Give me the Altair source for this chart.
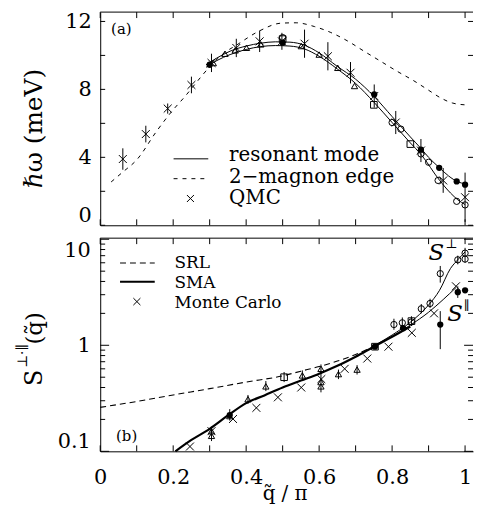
import altair as alt
import pandas as pd

FONT = "DejaVu Serif"
W = 376
H = 215

# ---------------- panel (a) data ----------------
edge_q = [0.03, 0.06, 0.10, 0.155, 0.196, 0.233, 0.269, 0.305, 0.34, 0.373, 0.437, 0.496,
          0.537, 0.587, 0.632, 0.678, 0.723, 0.769, 0.815, 0.86, 0.90, 0.933, 0.965, 1.0]
edge_E = [2.55, 3.1, 3.85, 5.55, 6.7, 7.6, 8.55, 9.45, 10.15, 10.6, 11.45, 11.9,
          11.92, 11.7, 11.35, 10.85, 10.25, 9.65, 9.05, 8.5, 7.95, 7.5, 7.2, 7.09]

res_up_q = [0.29, 0.32, 0.356, 0.40, 0.44, 0.48, 0.52, 0.56, 0.60, 0.65, 0.70, 0.75,
            0.80, 0.85, 0.88, 0.90, 0.93, 0.955, 0.98, 1.0]
res_up_E = [9.45, 9.85, 10.25, 10.55, 10.72, 10.8, 10.78, 10.6, 10.15, 9.35, 8.6, 7.6,
            6.4, 5.2, 4.5, 4.0, 3.38, 2.9, 2.56, 2.44]
res_lo_q = [0.29, 0.32, 0.356, 0.40, 0.44, 0.48, 0.52, 0.56, 0.60, 0.65, 0.70, 0.75,
            0.80, 0.85, 0.88, 0.93, 0.96, 0.98, 1.0]
res_lo_E = [9.3, 9.7, 10.05, 10.35, 10.52, 10.58, 10.55, 10.38, 9.95, 9.2, 8.35, 7.25,
            6.05, 4.85, 4.15, 2.65, 1.9, 1.5, 1.22]

qmc_q = [0.062, 0.125, 0.185, 0.25, 0.305, 0.373, 0.437, 0.498, 0.56, 0.624, 0.686, 0.751,
         0.81, 0.879, 0.94, 1.0]
qmc_E = [3.9, 5.37, 6.87, 8.26, 9.56, 10.44, 10.83, 10.83, 10.69, 9.95, 8.98, 7.61,
         6.05, 4.40, 2.64, 1.65]
qmc_err = [0.63, 0.49, 0.3, 0.49, 0.54, 0.54, 0.63, 0.5, 0.83, 0.83, 0.63, 0.68,
           0.68, 0.68, 0.73, 1.45]

a_tri_q = [0.31, 0.342, 0.37, 0.401, 0.44, 0.551, 0.60, 0.651, 0.697]
a_tri_E = [9.55, 10.1, 10.3, 10.45, 10.65, 10.55, 10.05, 9.27, 8.2]
a_sq_q = [0.5, 0.75, 0.85]
a_sq_E = [10.96, 7.09, 4.78]
a_oc_q = [0.5, 0.80, 0.824, 0.879, 0.90, 0.926, 0.977, 1.0]
a_oc_E = [11.05, 6.05, 5.66, 4.2, 3.71, 2.64, 1.41, 1.2]
a_fc_q = [0.3, 0.5, 0.751, 0.879, 0.929, 0.977, 1.0]
a_fc_E = [9.45, 10.75, 7.7, 4.45, 3.38, 2.58, 2.39]

# ---------------- panel (b) data ----------------
srl_q = [0.0, 0.1, 0.2, 0.3, 0.4, 0.5, 0.55, 0.6, 0.65, 0.7, 0.75, 0.79]
srl_S = [0.26, 0.295, 0.34, 0.39, 0.45, 0.515, 0.57, 0.63, 0.71, 0.82, 0.98, 1.17]
sma_q = [0.206, 0.25, 0.3, 0.35, 0.4, 0.45, 0.5, 0.55, 0.6, 0.65, 0.7, 0.75, 0.8, 0.85]
sma_S = [0.1, 0.128, 0.163, 0.218, 0.285, 0.337, 0.40, 0.465, 0.54, 0.64, 0.78, 0.97, 1.2, 1.5]
sperp_q = [0.75, 0.8, 0.85, 0.9, 0.93, 0.96, 0.98, 1.0]
sperp_S = [0.99, 1.25, 1.65, 2.4, 3.3, 5.3, 6.4, 7.6]
spar_q = [0.75, 0.8, 0.85, 0.9, 0.94, 0.975]
spar_S = [0.99, 1.22, 1.55, 2.05, 2.7, 3.5]

mc_q = [0.246, 0.305, 0.364, 0.428, 0.487, 0.551, 0.606, 0.67, 0.732, 0.79, 0.854, 0.915, 0.975, 1.034]
mc_S = [0.111, 0.155, 0.202, 0.257, 0.323, 0.40, 0.48, 0.60, 0.75, 0.97, 1.31, 2.0, 3.6, 3.6]

b_tri_q = [0.305, 0.305, 0.355, 0.405, 0.454, 0.554, 0.605, 0.605, 0.605, 0.653, 0.704]
b_tri_S = [0.155, 0.14, 0.215, 0.31, 0.41, 0.52, 0.60, 0.45, 0.41, 0.535, 0.59]
b_sq_q = [0.504, 0.753, 0.853]
b_sq_S = [0.50, 0.97, 1.69]
b_oc_q = [0.805, 0.828, 0.853, 0.88, 0.904, 0.932, 0.98, 1.0, 1.0]
b_oc_S = [1.57, 1.63, 1.66, 2.21, 2.48, 4.74, 6.4, 6.5, 7.4]
b_fc_q = [0.355, 0.753, 0.83, 0.932, 0.98, 1.0]
b_fc_S = [0.22, 0.97, 1.45, 1.57, 3.17, 3.3]

b_err_q = [0.305, 0.355, 0.405, 0.454, 0.504, 0.554, 0.605, 0.653, 0.704, 0.805, 0.828,
           0.853, 0.88, 0.904, 0.932, 0.932, 0.98, 0.98, 1.0]
b_err_lo = [0.125, 0.195, 0.28, 0.37, 0.45, 0.47, 0.36, 0.48, 0.53, 1.40, 1.45,
            1.52, 2.0, 2.25, 3.9, 0.92, 2.8, 5.8, 6.0]
b_err_hi = [0.17, 0.25, 0.34, 0.46, 0.56, 0.58, 0.66, 0.59, 0.65, 1.78, 1.83,
            1.88, 2.45, 2.75, 5.6, 2.1, 3.6, 7.0, 8.3]

# tick positions / labels
x_minor = [0.0, 0.1, 0.2, 0.3, 0.4, 0.5, 0.6, 0.7, 0.8, 0.9, 1.0]
x_labels = [0, 0.2, 0.4, 0.6, 0.8, 1]
a_y_ticks = [0, 2, 4, 6, 8, 10, 12]
a_y_labels = [0, 4, 8, 12]
b_y_major = [0.1, 1, 10]
b_y_minor = [0.2, 0.3, 0.4, 0.5, 0.6, 0.7, 0.8, 0.9, 2, 3, 4, 5, 6, 7, 8, 9]

legend_a = ["resonant mode", "2\u2212magnon edge", "QMC"]
legend_b = ["SRL", "SMA", "Monte Carlo"]

CROSS = "M-1,-1L1,1M-1,1L1,-1"

xscale = alt.Scale(domain=[0, W / 368.0], nice=False, zero=False)
yscale_a = alt.Scale(domain=[0, 12.55], nice=False, zero=False)
yscale_b = alt.Scale(type="log", domain=[0.1, 10.24], nice=False)

lab = dict(labelFont=FONT, labelFontSize=21, labelColor="black", grid=False, ticks=False,
           domainColor="black", domainWidth=1)

AX_A = alt.Axis(labels=False, title=None, **lab)
AY_A = alt.Axis(values=a_y_labels, labelPadding=9, labelFlush=2, title="\u210f\u03c9 (meV)",
                titleFont=FONT, titleFontSize=25, titleFontWeight="normal", titleColor="black",
                titleAngle=270, titleX=-67, titleY=117, titleAlign="center",
                titleBaseline="middle", **lab)
AX_B = alt.Axis(values=x_labels, format="~g", labelPadding=15, labelFlush=False,
                title="q\u0303 / \u03c0", titleFont=FONT, titleFontSize=20, titleFontWeight="normal",
                titleColor="black", titleX=186, titleY=43, titleAlign="center",
                titleBaseline="middle", **lab)
AY_B = alt.Axis(values=b_y_major, format="~g", labelPadding=10, labelFlush=2, title=None, **lab)

one = pd.DataFrame({"k": [0]})


class Panel:
    def __init__(self, ax, ay, ys):
        self.ax, self.ay, self.ys = ax, ay, ys

    def X(self, field="q"):
        return alt.X(f"{field}:Q", scale=xscale, axis=self.ax)

    def Y(self, field="v"):
        return alt.Y(f"{field}:Q", scale=self.ys, axis=self.ay)

    def line(self, q, v, width=1.0, dash=None):
        df = pd.DataFrame({"q": q, "v": v})
        kw = dict(color="black", strokeWidth=width, interpolate="monotone")
        if dash:
            kw["strokeDash"] = dash
        return alt.Chart(df).mark_line(**kw).encode(x=self.X(), y=self.Y())

    def pts(self, q, v, shape, filled=False, size=40):
        df = pd.DataFrame({"q": q, "v": v})
        return alt.Chart(df).mark_point(shape=shape, filled=filled, size=size, color="black",
                                        strokeWidth=1, opacity=1, clip=True).encode(
            x=self.X(), y=self.Y())

    def errbars(self, q, lo, hi):
        df = pd.DataFrame({"q": q, "lo": lo, "hi": hi})
        return alt.Chart(df).mark_rule(color="black", strokeWidth=1).encode(
            x=self.X(), y=self.Y("lo"), y2="hi:Q")

    def xticks(self, vals, L=6):
        df = pd.DataFrame({"t": vals})
        bot = alt.Chart(df).mark_rule(color="black").encode(
            x=self.X("t"), y=alt.value(H), y2=alt.value(H - L))
        top = alt.Chart(df).mark_rule(color="black").encode(
            x=self.X("t"), y=alt.value(0), y2=alt.value(L))
        return [bot, top]

    def yticks(self, vals, L):
        df = pd.DataFrame({"t": vals})
        left = alt.Chart(df).mark_rule(color="black").encode(
            y=self.Y("t"), x=alt.value(0), x2=alt.value(L))
        right = alt.Chart(df).mark_rule(color="black").encode(
            y=self.Y("t"), x=alt.value(W), x2=alt.value(W - L))
        return [left, right]


def text(s, x, y, size, style="normal", angle=0, align="left"):
    df = pd.DataFrame({"t": [s]})
    kw = dict(font=FONT, fontSize=size, fontStyle=style, color="black", align=align, baseline="middle")
    if angle:
        kw["angle"] = angle
    return alt.Chart(df).mark_text(**kw).encode(text="t:N", x=alt.value(x), y=alt.value(y))


def hrule(x1, x2, y, width=1.0, dash=None):
    kw = dict(color="black", strokeWidth=width)
    if dash:
        kw["strokeDash"] = dash
    return alt.Chart(one).mark_rule(**kw).encode(x=alt.value(x1), x2=alt.value(x2), y=alt.value(y))


def cross_at(x, y):
    return alt.Chart(one).mark_point(shape=CROSS, size=50, color="black", strokeWidth=1,
                                     opacity=1).encode(x=alt.value(x), y=alt.value(y))


# ---------------- panel (a) ----------------
pa = Panel(AX_A, AY_A, yscale_a)
panel_a = alt.layer(
    pa.line(edge_q, edge_E, dash=[4, 5]),
    hrule(0, W, 0),
    *pa.xticks(x_minor),
    *pa.yticks(a_y_ticks, 5),
    pa.line(res_up_q, res_up_E),
    pa.line(res_lo_q, res_lo_E),
    pa.errbars(qmc_q, [e - d for e, d in zip(qmc_E, qmc_err)], [e + d for e, d in zip(qmc_E, qmc_err)]),
    pa.pts(qmc_q, qmc_E, CROSS, size=64),
    pa.pts(a_tri_q, a_tri_E, "triangle-up", size=40),
    pa.pts(a_sq_q, a_sq_E, "square", size=45),
    pa.pts(a_oc_q, a_oc_E, "circle", size=40),
    pa.pts(a_fc_q, a_fc_E, "circle", filled=True, size=40),
    text("(a)", 11, 17, 15),
    hrule(74, 109, 148),
    hrule(74, 109, 168, dash=[4, 5]),
    cross_at(91, 188),
    text(legend_a[0], 130, 144, 20),
    text(legend_a[1], 130, 166, 20),
    text(legend_a[2], 130, 188, 20),
).properties(width=W, height=H)

# ---------------- panel (b) ----------------
pb = Panel(AX_B, AY_B, yscale_b)
panel_b = alt.layer(
    pb.line(srl_q, srl_S, width=1.1, dash=[6, 4]),
    hrule(0, W, 0),
    *pb.xticks(x_minor),
    *pb.yticks(b_y_major, 9),
    *pb.yticks(b_y_minor, 5),
    pb.line(sma_q, sma_S, width=2.2),
    pb.line(sperp_q, sperp_S),
    pb.line(spar_q, spar_S),
    pb.errbars(b_err_q, b_err_lo, b_err_hi),
    pb.pts(mc_q, mc_S, CROSS, size=64),
    pb.pts(b_tri_q, b_tri_S, "triangle-up", size=40),
    pb.pts(b_sq_q, b_sq_S, "square", size=45),
    pb.pts(b_oc_q, b_oc_S, "circle", size=40),
    pb.pts(b_fc_q, b_fc_S, "circle", filled=True, size=40),
    text("(b)", 16, 200, 15),
    hrule(20, 55, 25, width=1.1, dash=[6, 4]),
    hrule(20, 55, 44, width=2),
    cross_at(37, 64),
    text(legend_b[0], 75, 25, 17),
    text(legend_b[1], 75, 45, 17),
    text(legend_b[2], 75, 65, 17),
    text("S", 339, 15, 23, style="italic", align="center"),
    text("\u22a5", 354, 6, 13, align="center"),
    text("S", 358, 77, 23, style="italic", align="center"),
    text("\u2225", 370, 68, 13, align="center"),
    text("S", -66, 141, 24, angle=270, align="center"),
    text("\u22a5\u00b7\u2225", -78, 119, 14, angle=270, align="center"),
    text("(q\u0303)", -66, 91, 23, angle=270, align="center"),
).properties(width=W, height=H)

chart = alt.vconcat(panel_a, panel_b, spacing=13, bounds="flush").properties(
    padding={"left": 8, "top": 0, "right": 0, "bottom": 0},
    background="white",
).configure_view(strokeWidth=0)

chart.save("out.html", embed_options={"renderer": "svg", "actions": False})
